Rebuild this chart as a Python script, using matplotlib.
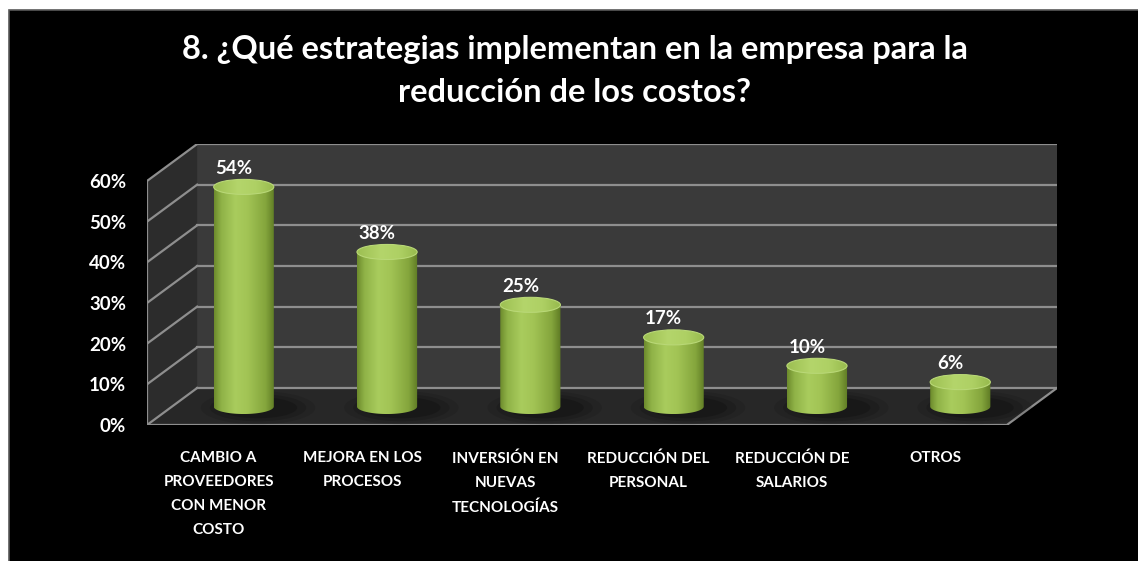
import matplotlib
matplotlib.use("Agg")
import matplotlib.pyplot as plt
import numpy as np
from matplotlib.patches import Polygon, Ellipse, Rectangle
from matplotlib.colors import LinearSegmentedColormap

# datos de la encuesta (pregunta 8)
categorias = [
    "CAMBIO A\nPROVEEDORES\nCON MENOR\nCOSTO",
    "MEJORA EN LOS\nPROCESOS",
    "INVERSIÓN EN\nNUEVAS\nTECNOLOGÍAS",
    "REDUCCIÓN DEL\nPERSONAL",
    "REDUCCIÓN DE\nSALARIOS",
    "OTROS",
]
porcentajes = [54, 38, 25, 17, 10, 6]
ticks_y = [0, 10, 20, 30, 40, 50, 60]
titulo = "8. ¿Qué estrategias implementan en la empresa para la\nreducción de los costos?"

FUENTE = ["Lato", "DejaVu Sans"]
plt.rcParams["font.family"] = FUENTE

# profundidad del efecto 3D (en unidades de datos)
DX = 0.35
DY = 9.1
ANCHO = 0.42
ALTO_ELIPSE = 3.7
Y_MAX = 60

fig = plt.figure(figsize=(11.38, 5.61), dpi=100, facecolor="white")
# fondo negro del gráfico
fig.patches.append(Rectangle((9 / 1138, -0.05), 1.1, 1.05 - 10 / 561, transform=fig.transFigure,
                             facecolor="black", edgecolor="#5a5a5a", lw=1.2, zorder=-5))

ax = fig.add_axes([147 / 1138, (561 - 425) / 561, 910 / 1138, 281 / 561])
ax.set_facecolor("none")
n = len(porcentajes)
x0, x1 = -0.5, n - 0.5

# pared del fondo, pared lateral y piso
ax.add_patch(Polygon([(x0 + DX, DY), (x1 + DX, DY), (x1 + DX, Y_MAX + DY), (x0 + DX, Y_MAX + DY)],
                     facecolor="#3a3a3a", edgecolor="none", zorder=1))
ax.add_patch(Polygon([(x0, 0), (x0 + DX, DY), (x0 + DX, Y_MAX + DY), (x0, Y_MAX)],
                     facecolor="#2c2c2c", edgecolor="none", zorder=1))
ax.add_patch(Polygon([(x0, 0), (x1, 0), (x1 + DX, DY), (x0 + DX, DY)],
                     facecolor="#272727", edgecolor="none", zorder=1))

col_grid = "#8e8e8e"
for t in ticks_y:
    ax.plot([x0 + DX, x1 + DX], [t + DY, t + DY], color=col_grid, lw=1.6, zorder=2)
    ax.plot([x0, x0 + DX], [t, t + DY], color=col_grid, lw=1.6, zorder=2)
ax.plot([x0, x0], [0, Y_MAX], color=col_grid, lw=1.6, zorder=2)
ax.plot([x0, x1, x1 + DX], [0, 0, DY], color=col_grid, lw=1.6, zorder=2)

# degradado horizontal de los cilindros
cmap_cuerpo = LinearSegmentedColormap.from_list("cuerpo", [
    (0.0, "#6c8a2c"), (0.12, "#8fb247"), (0.35, "#a9cc5d"), (0.55, "#a2c455"),
    (0.85, "#84a53c"), (1.0, "#5e7a24")])
cmap_tapa = LinearSegmentedColormap.from_list("tapa", [
    (0.0, "#9cbf52"), (0.4, "#b4d56b"), (0.7, "#aed064"), (1.0, "#96b94c")])
grad = np.linspace(0, 1, 256).reshape(1, -1)

for i, v in enumerate(porcentajes):
    cx = i + DX / 2
    yb = DY / 2
    yt = v + DY / 2
    a = ANCHO / 2
    b = ALTO_ELIPSE / 2

    # sombra sobre el piso
    for k, al in enumerate([0.10, 0.14, 0.18]):
        ax.add_patch(Ellipse((cx + 0.1, yb - 0.3), ANCHO * (1.9 - 0.3 * k), ALTO_ELIPSE * (2.2 - 0.4 * k),
                             facecolor="black", edgecolor="none", alpha=al, zorder=3))

    # cuerpo del cilindro
    ang = np.linspace(np.pi, 2 * np.pi, 60)
    contorno = [(cx - a, yt)] + list(zip(cx + a * np.cos(ang), yb + b * np.sin(ang))) + [(cx + a, yt)]
    clip = Polygon(contorno, closed=True, facecolor="none", edgecolor="none")
    ax.add_patch(clip)
    im = ax.imshow(grad, cmap=cmap_cuerpo, aspect="auto", extent=[cx - a, cx + a, yb - b, yt],
                   interpolation="bilinear", zorder=4)
    im.set_clip_path(clip)

    # tapa superior
    tapa = Ellipse((cx, yt), ANCHO, ALTO_ELIPSE, facecolor="none", edgecolor="#b9d877", lw=0.8, zorder=6)
    ax.add_patch(tapa)
    im2 = ax.imshow(grad, cmap=cmap_tapa, aspect="auto", extent=[cx - a, cx + a, yt - b, yt + b],
                    interpolation="bilinear", zorder=5)
    im2.set_clip_path(tapa)

    ax.text(cx - 0.07, yt + b + 0.6, f"{v}%", color="white", fontsize=13.5, fontweight="bold",
            ha="center", va="bottom", zorder=7)

ax.set_xlim(x0, x1 + DX)
ax.set_ylim(0, Y_MAX + DY)
ax.set_xticks(range(n))
ax.set_xticklabels(categorias, color="white", fontsize=11, fontweight="bold", linespacing=1.9, va="top")
ax.set_yticks(ticks_y)
ax.set_yticklabels([f"{t}%" for t in ticks_y], color="white", fontsize=13.5, fontweight="bold")
ax.tick_params(axis="x", length=0, pad=19)
ax.tick_params(axis="y", length=0, pad=15)
for s in ax.spines.values():
    s.set_visible(False)

fig.text(0.505, 1 - 71 / 561, titulo, color="white", fontsize=23.5, fontweight="bold",
         ha="center", va="center", linespacing=1.55)

fig.savefig("out.png", dpi=100, facecolor=fig.get_facecolor())
